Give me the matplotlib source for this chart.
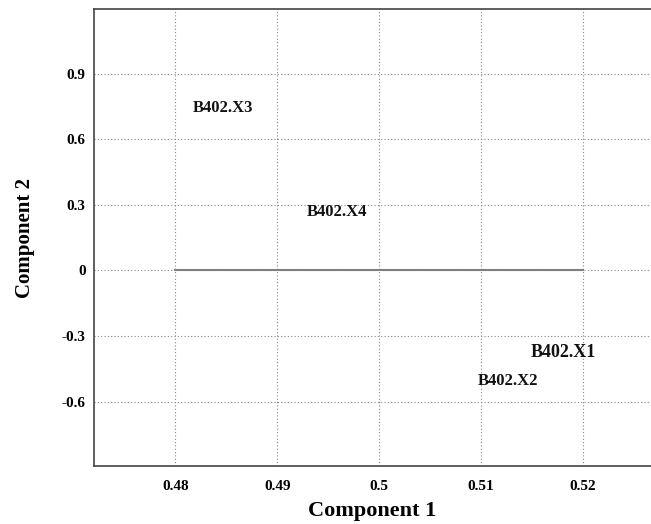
import matplotlib.pyplot as plt

# data
names = ["B402.X1", "B402.X2", "B402.X3", "B402.X4"]
comp1 = [0.5149, 0.5097, 0.4817, 0.4929]
comp2 = [-0.374, -0.507, 0.744, 0.269]
label_size = [13, 12, 12, 12]

xticks = [0.48, 0.49, 0.5, 0.51, 0.52]
xtick_labels = ["0.48", "0.49", "0.5", "0.51", "0.52"]
yticks = [-0.6, -0.3, 0, 0.3, 0.6, 0.9]
ytick_labels = ["-0.6", "-0.3", "0", "0.3", "0.6", "0.9"]

plt.rcParams['font.family'] = ['Liberation Serif', 'DejaVu Serif']

fig = plt.figure(figsize=(6.51, 5.24), dpi=100)
ax = fig.add_axes([94/651, 1-466/524, 1-94/651, (466-9)/524])

ax.set_xlim(0.4720, 0.5267)
ax.set_ylim(-0.894, 1.195)

# zero line
ax.plot([xticks[0], xticks[-1]], [0, 0], color='#808080', lw=1.5, zorder=2)

for n, x, y, s in zip(names, comp1, comp2, label_size):
    ax.text(x, y, n, ha='left', va='center', fontsize=s, fontweight='bold', color='#111111')

ax.set_xticks(xticks)
ax.set_xticklabels(xtick_labels)
ax.set_yticks(yticks)
ax.set_yticklabels(ytick_labels)
ax.tick_params(length=0, labelsize=11)
ax.tick_params(axis='x', pad=10)
ax.tick_params(axis='y', pad=6)
for t in ax.get_xticklabels() + ax.get_yticklabels():
    t.set_fontweight('bold')

ax.grid(True, color='#888888', linestyle=(0, (1, 2)), lw=0.8)
ax.set_axisbelow(True)

for sp in ax.spines.values():
    sp.set_color('#444444')
    sp.set_linewidth(1.2)
ax.spines['right'].set_visible(False)

ax.set_xlabel("Component 1", fontsize=16, fontweight='bold', labelpad=6)
ax.set_ylabel("Component 2", fontsize=15, fontweight='bold', labelpad=19)

fig.savefig("out.png", dpi=100)
